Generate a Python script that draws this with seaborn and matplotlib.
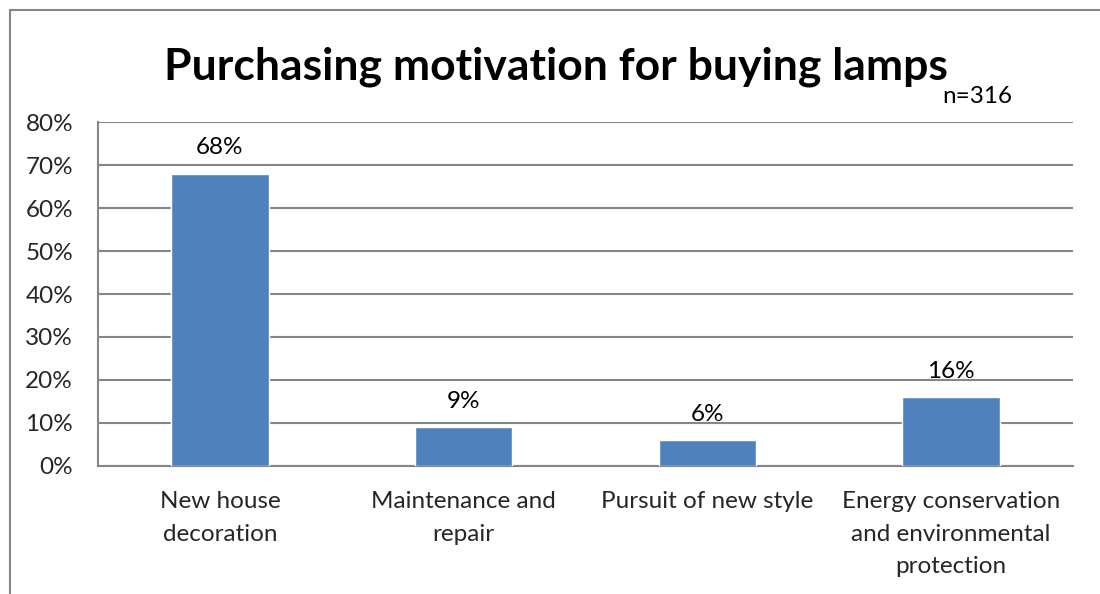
import matplotlib
matplotlib.use("Agg")
import matplotlib.pyplot as plt
import seaborn as sns
import pandas as pd
from matplotlib.lines import Line2D

categories = [
    "New house\ndecoration",
    "Maintenance and\nrepair",
    "Pursuit of new style",
    "Energy conservation\nand environmental\nprotection",
]
shares = [68, 9, 6, 16]
value_labels = ["68%", "9%", "6%", "16%"]
ytick_values = [0, 10, 20, 30, 40, 50, 60, 70, 80]
ytick_labels = ["0%", "10%", "20%", "30%", "40%", "50%", "60%", "70%", "80%"]
title = "Purchasing motivation for buying lamps"
sample_note = "n=316"

sns.set_theme(style="white")
plt.rcParams["font.family"] = ["Lato", "DejaVu Sans"]

df = pd.DataFrame({"category": categories, "share": shares})

fig = plt.figure(figsize=(11, 5.94), dpi=100)
ax = fig.add_axes([0.0891, 0.2155, 0.8864, 0.5791])

sns.barplot(data=df, x="category", y="share", color="#4F81BD",
            saturation=1, width=0.4, ax=ax, zorder=3)

grid_color = "#868686"
label_size = 17.5
ax.set_ylim(0, 80)
ax.set_yticks(ytick_values)
ax.set_yticklabels(ytick_labels, fontsize=label_size)
ax.yaxis.grid(True, color=grid_color, linewidth=1.5, zorder=0)
ax.set_axisbelow(True)
ax.tick_params(axis="y", length=0, pad=18)
ax.tick_params(axis="x", length=0, pad=18, labelsize=label_size)
ax.set_xlabel("")
ax.set_ylabel("")
for lbl in ax.get_xticklabels():
    lbl.set_linespacing(1.68)

for side in ("top", "right"):
    ax.spines[side].set_visible(False)
for side in ("left", "bottom"):
    ax.spines[side].set_color(grid_color)
    ax.spines[side].set_linewidth(1.5)

for i, (val, txt) in enumerate(zip(shares, value_labels)):
    ax.annotate(txt, (i, val), xytext=(0, 11), textcoords="offset points",
                ha="center", va="bottom", fontsize=label_size, color="black")

fig.text(0.505, 0.888, title, ha="center", va="center",
         fontsize=32, fontweight="bold", color="black")
fig.text(0.92, 0.838, sample_note, ha="right", va="center",
         fontsize=label_size, color="black")

# chart-area frame along the top and left
fig.add_artist(Line2D([0.0091, 1.0], [0.984, 0.984], color=grid_color,
                      linewidth=1.5, transform=fig.transFigure))
fig.add_artist(Line2D([0.0091, 0.0091], [0.0, 0.984], color=grid_color,
                      linewidth=1.5, transform=fig.transFigure))

fig.savefig("out.png", dpi=100, facecolor="white")
